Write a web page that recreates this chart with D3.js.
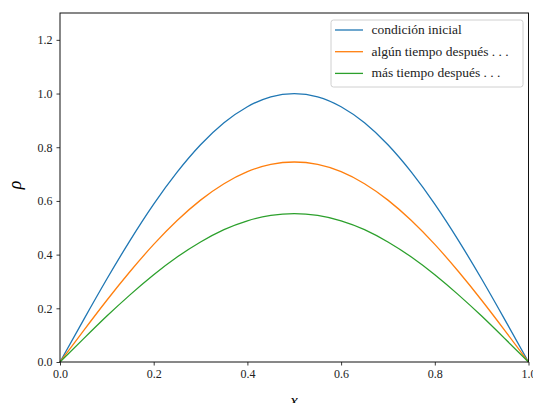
<!DOCTYPE html>
<html><head><meta charset="utf-8">
<script src="https://cdn.jsdelivr.net/npm/d3@7"></script>
<style>
body{margin:0;background:#fff;}
text{font-family:"Liberation Serif","DejaVu Serif",serif;}
</style></head>
<body><svg id="c" width="533" height="403"></svg>
<script>
const xs = [0,0.05,0.1,0.15,0.2,0.25,0.3,0.35,0.4,0.45,0.5,0.55,0.6,0.65,0.7,0.75,0.8,0.85,0.9,0.95,1.0];
const initial = [0,0.156,0.309,0.454,0.588,0.707,0.809,0.891,0.951,0.988,1.0,0.988,0.951,0.891,0.809,0.707,0.588,0.454,0.309,0.156,0];
const later = [0,0.116,0.230,0.338,0.438,0.527,0.603,0.664,0.709,0.736,0.745,0.736,0.709,0.664,0.603,0.527,0.438,0.338,0.230,0.116,0];
const muchLater = [0,0.086,0.171,0.251,0.325,0.391,0.447,0.493,0.526,0.546,0.553,0.546,0.526,0.493,0.447,0.391,0.325,0.251,0.171,0.086,0];
const seriesNames = ["condición inicial","algún tiempo después . . .","más tiempo después . . ."];
const colors = ["#1f77b4","#ff7f0e","#2ca02c"];
const xTicks = [0,0.2,0.4,0.6,0.8,1.0];
const yTicks = [0,0.2,0.4,0.6,0.8,1.0,1.2];

const svg = d3.select("#c");
const L=60, R=528.5, T=13, B=362;
const x = d3.scaleLinear().domain([0,1]).range([L,R]);
const y = d3.scaleLinear().domain([0,1.3]).range([B,T]);

const series=[initial,later,muchLater];
const line = d3.line().x((d,i)=>x(xs[i])).y(d=>y(d)).curve(d3.curveNatural);
series.forEach((s,k)=>{
  svg.append("path").attr("d",line(s)).attr("fill","none").attr("stroke",colors[k]).attr("stroke-width",1.3);
});

const xa = svg.append("g").attr("transform",`translate(0,${B})`)
  .call(d3.axisBottom(x).tickValues(xTicks).tickFormat(d3.format(".1f")).tickSizeOuter(0).tickSize(3.5).tickPadding(4));
const ya = svg.append("g").attr("transform",`translate(${L},0)`)
  .call(d3.axisLeft(y).tickValues(yTicks).tickFormat(d3.format(".1f")).tickSizeOuter(0).tickSize(3.5).tickPadding(4));
[xa,ya].forEach(g=>{
  g.selectAll("text").attr("font-size",12).attr("fill","#222").style("font-family",'"Liberation Serif",serif');
  g.select(".domain").remove();
  g.selectAll("line").attr("stroke","#222").attr("stroke-width",0.9);
});
svg.append("rect").attr("x",L).attr("y",T).attr("width",R-L).attr("height",B-T)
  .attr("fill","none").attr("stroke","#111").attr("stroke-width",1);

svg.append("text").attr("x",294).attr("y",406).attr("text-anchor","middle")
  .attr("font-size",17).attr("font-style","italic").text("x");
svg.append("text").attr("transform","translate(21,185) rotate(-90)").attr("text-anchor","middle")
  .attr("font-size",18).attr("font-style","italic").text("ρ");

const lg = svg.append("g");
lg.append("rect").attr("x",331).attr("y",20).attr("width",192).attr("height",67).attr("rx",2.5)
  .attr("fill","#fff").attr("fill-opacity",0.8).attr("stroke","#d0d0d0").attr("stroke-width",1);
seriesNames.forEach((n,k)=>{
  const yy = 30 + k*21.7;
  lg.append("line").attr("x1",335).attr("x2",363).attr("y1",yy).attr("y2",yy).attr("stroke",colors[k]).attr("stroke-width",1.3);
  lg.append("text").attr("x",371.5).attr("y",yy+4).attr("font-size",13.5).attr("fill","#222").text(n);
});
</script></body></html>
